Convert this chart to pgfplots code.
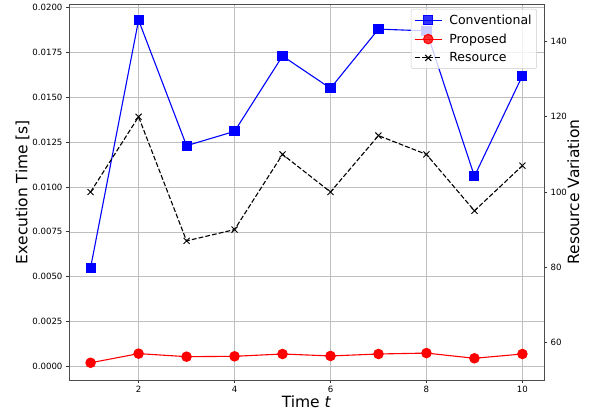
\documentclass[border=0pt]{standalone}
\usepackage{fontspec}
\setmainfont{DejaVu Sans}
\usepackage{pgfplots}
\pgfplotsset{compat=1.18}
\begin{document}
\begin{tikzpicture}
\pgfplotsset{
  every axis/.append style={
    width=475pt, height=376pt, scale only axis,
    xmin=0.55, xmax=10.45,
    tick align=outside, major tick length=3pt,
    tick style={black!80, line width=0.7pt},
    tick label style={font=\fontsize{8.6}{10}\selectfont},
    label style={font=\fontsize{15.5}{18}\selectfont},
    /pgf/number format/assume math mode=true,
    axis line style={black!70, line width=0.8pt},
  },
  legend image code/.code={\draw[mark repeat=2,mark phase=2,#1] plot coordinates {(0pt,0pt) (13.5pt,0pt) (27pt,0pt)};},
}
\begin{axis}[name=main,
  ymin=-0.00076, ymax=0.0202,
  xtick={2,4,6,8,10},
  ytick={0,0.0025,0.005,0.0075,0.01,0.0125,0.015,0.0175,0.02},
  scaled y ticks=false,
  yticklabel style={/pgf/number format/.cd, fixed, fixed zerofill, precision=4},
  tick pos=left,
  grid=major, grid style={black!25, line width=0.6pt},
  xlabel={Time \textit{t}}, ylabel={Execution Time [s]},
  xlabel style={at={(axis description cs:0.5,-0.059)}, anchor=center},
  ylabel style={at={(axis description cs:-0.098,0.5)}, anchor=center},
]
\addplot[blue, line width=1.1pt, mark=square*, mark size=4.5pt, mark options={solid}] coordinates {
(1,0.0055) (2,0.0193) (3,0.0123) (4,0.0131) (5,0.0173) (6,0.0155) (7,0.0188) (8,0.0187) (9,0.0106) (10,0.0162)};
\addplot[red, line width=1.1pt, mark=*, mark size=4.7pt, mark options={solid}] coordinates {
(1,0.0002) (2,0.00071) (3,0.00054) (4,0.00056) (5,0.00069) (6,0.00058) (7,0.00069) (8,0.00074) (9,0.00045) (10,0.00069)};
\end{axis}
\begin{axis}[
  ymin=50, ymax=150,
  axis y line*=right, axis x line=none,
  ytick={60,80,100,120,140},
  ylabel={Resource Variation},
  ylabel style={at={(axis description cs:1.062,0.5)}, anchor=center, rotate=0},
  legend cell align=left,
  legend style={at={(rel axis cs:0.985,0.987)}, anchor=north east,
    font=\fontsize{12.5}{15}\selectfont, draw=black!20, fill=white,
    fill opacity=0.8, text opacity=1, draw opacity=1, rounded corners=2pt,
    row sep=4pt, column sep=5pt, inner xsep=3pt, inner ysep=3.5pt},
]
\addlegendimage{blue, line width=1.1pt, mark=square*, mark size=4.5pt, mark options={solid}}
\addlegendentry{Conventional}
\addlegendimage{red, line width=1.1pt, mark=*, mark size=4.7pt, mark options={solid}}
\addlegendentry{Proposed}
\addplot[black, line width=1.1pt, dash pattern=on 4.8pt off 2.1pt, mark=x, mark size=4.3pt, mark options={solid, line width=0.9pt}] coordinates {
(1,100) (2,120) (3,87) (4,90) (5,110) (6,100) (7,115) (8,110) (9,95) (10,107)};
\addlegendentry{Resource}
\end{axis}
\pgfresetboundingbox
\path ([xshift=-69pt,yshift=-36pt]main.south west) rectangle ([xshift=49pt,yshift=4pt]main.north east);
\end{tikzpicture}
\end{document}
